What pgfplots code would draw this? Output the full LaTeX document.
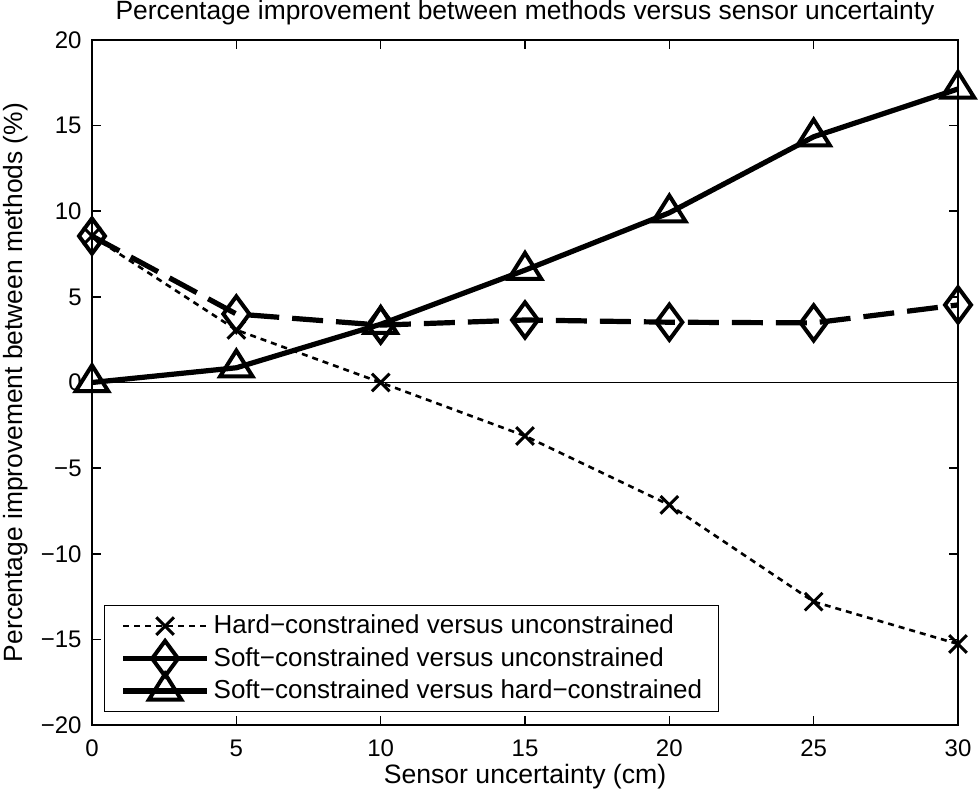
\documentclass[border=0pt]{standalone}
\usepackage{fontspec}
\setmainfont{Liberation Sans}
\usepackage{pgfplots}
\pgfplotsset{compat=1.18}

\pgfdeclareplotmark{mtri}{%
  \pgfpathmoveto{\pgfqpoint{0pt}{8.6pt}}%
  \pgfpathlineto{\pgfqpoint{8.1pt}{-4.3pt}}%
  \pgfpathlineto{\pgfqpoint{-8.1pt}{-4.3pt}}%
  \pgfpathclose
  \pgfusepathqstroke}
\pgfdeclareplotmark{mdia}{%
  \pgfpathmoveto{\pgfqpoint{0pt}{8.8pt}}%
  \pgfpathlineto{\pgfqpoint{6.5pt}{0pt}}%
  \pgfpathlineto{\pgfqpoint{0pt}{-8.8pt}}%
  \pgfpathlineto{\pgfqpoint{-6.5pt}{0pt}}%
  \pgfpathclose
  \pgfusepathqstroke}
\pgfdeclareplotmark{mx}{%
  \pgfpathmoveto{\pgfqpoint{-4.4pt}{-4.4pt}}%
  \pgfpathlineto{\pgfqpoint{4.4pt}{4.4pt}}%
  \pgfpathmoveto{\pgfqpoint{-4.4pt}{4.4pt}}%
  \pgfpathlineto{\pgfqpoint{4.4pt}{-4.4pt}}%
  \pgfusepathqstroke}

\begin{document}
\begin{tikzpicture}
\begin{axis}[
  name=ax,
  scale only axis, width=433pt, height=342.5pt,
  xmin=0, xmax=30, ymin=-20, ymax=20,
  xtick={0,5,10,15,20,25,30}, ytick={-20,-15,-10,-5,0,5,10,15,20},
  xticklabels={0,5,10,15,20,25,30},
  yticklabels={−20,−15,−10,−5,0,5,10,15,20},
  tick align=inside, major tick length=4.5pt,
  axis line style={line width=0.8pt},
  tick style={black, line width=0.8pt},
  clip=false,
  ticklabel style={font=\fontsize{12}{14}\selectfont},
  xticklabel style={anchor=base, inner sep=0pt, yshift=-15.85pt},
  yticklabel style={anchor=east, inner sep=0pt, xshift=-5pt},
  every axis title shift=0pt,
  title={Percentage improvement between methods versus sensor uncertainty},
  title style={font=\fontsize{13.2}{15}\selectfont, at={(axis description cs:0.5,1.0302)}, anchor=base, inner sep=0pt, yshift=0pt},
  xlabel={Sensor uncertainty (cm)},
  xlabel style={font=\fontsize{13.3}{15}\selectfont, at={(axis description cs:0.5,-0.0847)}, anchor=base, inner sep=0pt},
  ylabel={Percentage improvement between methods (\%)},
  ylabel style={font=\fontsize{13.2}{15}\selectfont, at={(axis description cs:-0.0808,0.5)}, anchor=base, inner sep=0pt},
  legend cell align=left,
  legend style={at={(0.01386,0.01898)}, anchor=south west, draw=black, line width=0.5pt,
    inner xsep=8pt, inner ysep=2.1pt, row sep=0pt, column sep=2pt,
    font=\fontsize{13}{15}\selectfont,
    nodes={inner sep=0pt, text height=12pt, text depth=4.25pt}},
  legend image code/.code={%
    \draw[mark repeat=2,mark phase=2,#1,overlay] plot coordinates {(0pt,0pt) (21pt,0pt) (42pt,0pt)};
    \path (0pt,0pt) (42pt,0pt);},
]
\addlegendimage{black, line width=1.3pt, dash pattern=on 3pt off 2.5pt, mark=mx, mark options={solid, line width=1.5pt}}
\addlegendentry{Hard−constrained versus unconstrained}
\addlegendimage{black, line width=2.6pt, mark=mdia, mark options={solid, line width=2pt, line join=miter}}
\addlegendentry{Soft−constrained versus unconstrained}
\addlegendimage{black, line width=2.6pt, mark=mtri, mark options={solid, line width=2pt, line join=miter}}
\addlegendentry{Soft−constrained versus hard−constrained}

\addplot[forget plot, black, line width=0.7pt] coordinates {(0,0) (30,0)};

\addplot[forget plot, black, line width=1.3pt, dash pattern=on 3pt off 2.5pt, mark=mx, mark options={solid, line width=1.5pt}]
  coordinates {(0,8.55) (5,3.07) (10,0) (15,-3.12) (20,-7.15) (25,-12.8) (30,-15.27)};

\addplot[forget plot, black, line width=2.6pt, dash pattern=on 15.5pt off 6.5pt, mark=mdia, mark options={solid, line width=2pt, line join=miter}]
  coordinates {(0,8.55) (5,4.0) (10,3.35) (15,3.65) (20,3.52) (25,3.48) (30,4.53)};

\addplot[forget plot, black, line width=2.6pt, mark=mtri, mark options={solid, line width=2pt, line join=miter}]
  coordinates {(0,0) (5,0.86) (10,3.4) (15,6.56) (20,9.91) (25,14.35) (30,17.14)};
\end{axis}
\pgfresetboundingbox
\path[use as bounding box] ([shift={(-46pt,-35.5pt)}]ax.south west) rectangle ([shift={(10pt,20pt)}]ax.north east);
\end{tikzpicture}
\end{document}
